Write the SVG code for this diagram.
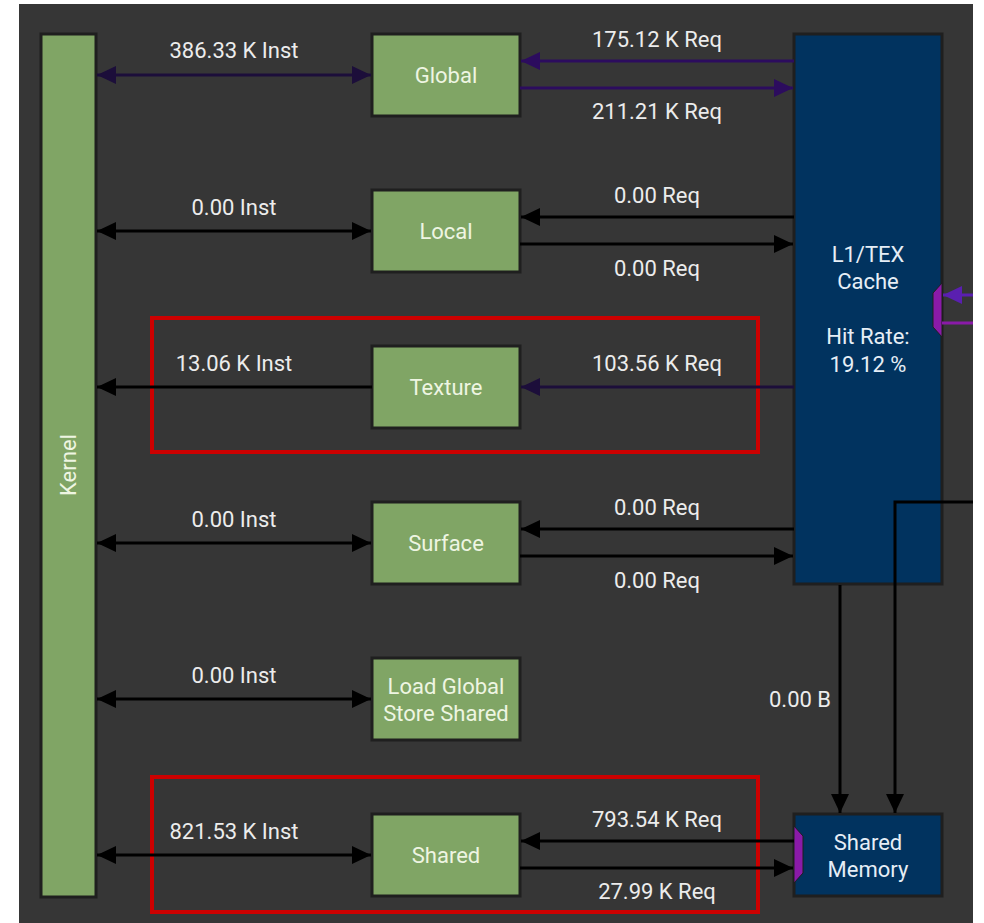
<svg xmlns="http://www.w3.org/2000/svg" width="984" height="923" viewBox="0 0 984 923">
<style>
.lbl{font-family:Roboto,"Liberation Sans",sans-serif;font-size:22px;fill:#ececec;text-anchor:middle}
.bx{fill:#80a565;stroke:#1f1f1f;stroke-width:3}
.bt{font-family:Roboto,"Liberation Sans",sans-serif;font-size:22px;fill:#eef5e2;text-anchor:middle}
.mem{fill:#01335f;stroke:#1f1f1f;stroke-width:3}
.mt{font-family:Roboto,"Liberation Sans",sans-serif;font-size:22px;fill:#e6eef6;text-anchor:middle}
.k{stroke:#000;stroke-width:3;fill:none}
.dp{stroke:#1c0e3a;stroke-width:3;fill:none}
.pp{stroke:#2c0c5e;stroke-width:3;fill:none}
.hl{fill:none;stroke:#cc0000;stroke-width:4}
</style>
<defs>
<marker id="aK" markerUnits="userSpaceOnUse" markerWidth="20" markerHeight="18" refX="19" refY="9" orient="auto-start-reverse"><path d="M0,0 L19,9 L0,18 z" fill="#000"/></marker>
<marker id="aD" markerUnits="userSpaceOnUse" markerWidth="20" markerHeight="18" refX="19" refY="9" orient="auto-start-reverse"><path d="M0,0 L19,9 L0,18 z" fill="#1c0e3a"/></marker>
<marker id="aP" markerUnits="userSpaceOnUse" markerWidth="20" markerHeight="18" refX="19" refY="9" orient="auto-start-reverse"><path d="M0,0 L19,9 L0,18 z" fill="#2c0c5e"/></marker>
<marker id="aV" markerUnits="userSpaceOnUse" markerWidth="20" markerHeight="18" refX="19" refY="9" orient="auto-start-reverse"><path d="M0,0 L19,9 L0,18 z" fill="#5a1fb0"/></marker>
</defs>
<rect x="0" y="0" width="984" height="923" fill="#ffffff"/>
<rect x="19" y="4" width="954" height="919" fill="#363636"/>

<g id="highlights">
<rect class="hl" x="152" y="318" width="606" height="134"/>
<rect class="hl" x="152" y="777" width="606" height="135"/>
</g>

<g id="kernel">
<rect class="bx" x="41" y="34" width="55" height="863"/>
<text class="bt" transform="translate(76,465) rotate(-90)">Kernel</text>
</g>
<g id="global"><rect class="bx" x="372" y="34" width="148" height="82"/><text class="bt" x="446" y="83">Global</text></g>
<g id="local"><rect class="bx" x="372" y="190" width="148" height="82"/><text class="bt" x="446" y="239">Local</text></g>
<g id="texture"><rect class="bx" x="372" y="346" width="148" height="82"/><text class="bt" x="446" y="395">Texture</text></g>
<g id="surface"><rect class="bx" x="372" y="502" width="148" height="82"/><text class="bt" x="446" y="551">Surface</text></g>
<g id="lgss"><rect class="bx" x="372" y="658" width="148" height="82"/><text class="bt" x="446" y="694">Load Global</text><text class="bt" x="446" y="721">Store Shared</text></g>
<g id="shared"><rect class="bx" x="372" y="814" width="148" height="82"/><text class="bt" x="446" y="863">Shared</text></g>

<g id="l1tex">
<rect class="mem" x="794" y="34" width="148" height="550"/>
<text class="mt" x="868" y="262">L1/TEX</text>
<text class="mt" x="868" y="289">Cache</text>
<text class="mt" x="868" y="344">Hit Rate:</text>
<text class="mt" x="868" y="372">19.12 %</text>
<polygon points="942,283 933,293 933,327 942,337" fill="#8a1aa8" stroke="#1f1f1f" stroke-width="1"/>
</g>
<g id="sharedmem">
<rect class="mem" x="794" y="814" width="148" height="82"/>
<text class="mt" x="868" y="850">Shared</text>
<text class="mt" x="868" y="877">Memory</text>
<polygon points="794,826 803,836 803,873 794,883" fill="#8a1aa8" stroke="#1f1f1f" stroke-width="1"/>
</g>

<g id="connectors">
<line class="dp" x1="97" y1="75" x2="371" y2="75" marker-start="url(#aD)" marker-end="url(#aD)"/>
<line class="pp" x1="794" y1="61" x2="521" y2="61" marker-end="url(#aP)"/>
<line class="pp" x1="520" y1="88" x2="793" y2="88" marker-end="url(#aP)"/>

<line class="k" x1="97" y1="231" x2="371" y2="231" marker-start="url(#aK)" marker-end="url(#aK)"/>
<line class="k" x1="794" y1="217" x2="521" y2="217" marker-end="url(#aK)"/>
<line class="k" x1="520" y1="244" x2="793" y2="244" marker-end="url(#aK)"/>

<line class="k" x1="372" y1="387" x2="97" y2="387" marker-end="url(#aK)"/>
<line class="dp" x1="794" y1="387" x2="521" y2="387" marker-end="url(#aD)"/>

<line class="k" x1="97" y1="543" x2="371" y2="543" marker-start="url(#aK)" marker-end="url(#aK)"/>
<line class="k" x1="794" y1="529" x2="521" y2="529" marker-end="url(#aK)"/>
<line class="k" x1="520" y1="556" x2="793" y2="556" marker-end="url(#aK)"/>

<line class="k" x1="97" y1="699" x2="371" y2="699" marker-start="url(#aK)" marker-end="url(#aK)"/>

<line class="k" x1="97" y1="855" x2="371" y2="855" marker-start="url(#aK)" marker-end="url(#aK)"/>
<line class="k" x1="794" y1="841" x2="521" y2="841" marker-end="url(#aK)"/>
<line class="k" x1="520" y1="868" x2="793" y2="868" marker-end="url(#aK)"/>

<line class="k" x1="840" y1="585" x2="840" y2="813" marker-end="url(#aK)"/>
<polyline class="k" points="973,502 895,502 895,813" marker-end="url(#aK)"/>

<line x1="973" y1="295" x2="943" y2="295" stroke="#5a1fb0" stroke-width="3" marker-end="url(#aV)"/>
<line x1="942" y1="323" x2="973" y2="323" stroke="#8a1aa8" stroke-width="3"/>
</g>

<g id="labels">
<text class="lbl" x="234" y="58">386.33 K Inst</text>
<text class="lbl" x="657" y="47">175.12 K Req</text>
<text class="lbl" x="657" y="119">211.21 K Req</text>
<text class="lbl" x="234" y="215">0.00 Inst</text>
<text class="lbl" x="657" y="203">0.00 Req</text>
<text class="lbl" x="657" y="276">0.00 Req</text>
<text class="lbl" x="234" y="371">13.06 K Inst</text>
<text class="lbl" x="657" y="371">103.56 K Req</text>
<text class="lbl" x="234" y="527">0.00 Inst</text>
<text class="lbl" x="657" y="515">0.00 Req</text>
<text class="lbl" x="657" y="588">0.00 Req</text>
<text class="lbl" x="234" y="683">0.00 Inst</text>
<text class="lbl" x="800" y="707">0.00 B</text>
<text class="lbl" x="234" y="839">821.53 K Inst</text>
<text class="lbl" x="657" y="827">793.54 K Req</text>
<text class="lbl" x="657" y="899">27.99 K Req</text>
</g>
</svg>
